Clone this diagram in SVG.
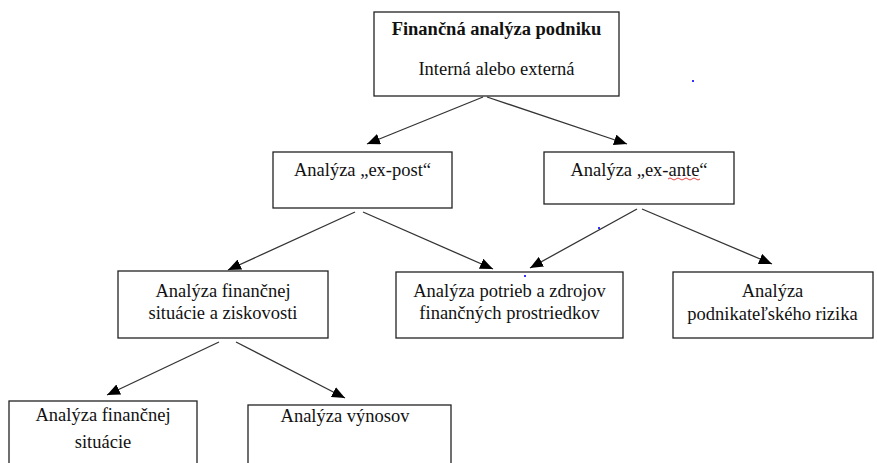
<svg xmlns="http://www.w3.org/2000/svg" width="877" height="463" viewBox="0 0 877 463">
<defs>
<marker id="ah" markerUnits="userSpaceOnUse" markerWidth="13" markerHeight="11" refX="13" refY="5.5" orient="auto">
<path d="M0,0 L13,5.5 L0,11 z" fill="#000"/>
</marker>
<style>
.box{fill:#fff;stroke:#222;stroke-width:1.3}
.t{font-family:'Liberation Serif','DejaVu Serif','Times New Roman',serif;font-size:18.5px;fill:#111;text-anchor:middle}
.b{font-weight:bold}
.c{stroke:#333;stroke-width:1.3;fill:none;marker-end:url(#ah)}
</style>
</defs>
<rect width="877" height="463" fill="#fff"/>
<g id="connectors">
<line class="c" x1="483" y1="97" x2="367" y2="144"/>
<line class="c" x1="487" y1="97" x2="627" y2="144"/>
<line class="c" x1="355" y1="212" x2="228" y2="270"/>
<line class="c" x1="363" y1="212" x2="493" y2="269"/>
<line class="c" x1="637" y1="209" x2="530" y2="268"/>
<line class="c" x1="642" y1="209" x2="772" y2="264"/>
<line class="c" x1="219" y1="342" x2="107" y2="395"/>
<line class="c" x1="236" y1="342" x2="345" y2="398"/>
</g>
<g id="root">
<rect class="box" x="374" y="12" width="245" height="84"/>
<text class="t b" x="496.5" y="35" font-family="Liberation Serif, serif">Finančná analýza podniku</text>
<text class="t" x="496.5" y="75" font-family="Liberation Serif, serif">Interná alebo externá</text>
</g>
<g id="expost">
<rect class="box" x="273" y="152" width="179" height="56"/>
<text class="t" x="362.5" y="176">Analýza „ex-post“</text>
</g>
<g id="exante">
<rect class="box" x="544" y="152" width="190" height="52"/>
<text class="t" x="639" y="176">Analýza „ex-ante“</text>
<path d="M668,179 q2,-2 4,0 t4,0 t4,0 t4,0 t4,0 t4,0 t4,0 t4,0" stroke="#e53030" stroke-width="0.9" fill="none"/>
</g>
<g id="finsit">
<rect class="box" x="118" y="271" width="210" height="67"/>
<text class="t" x="223" y="297">Analýza finančnej</text>
<text class="t" x="223" y="319">situácie a ziskovosti</text>
</g>
<g id="potrieb">
<rect class="box" x="396" y="272" width="227" height="66"/>
<text class="t" x="509.5" y="297">Analýza potrieb a zdrojov</text>
<text class="t" x="509.5" y="319">finančných prostriedkov</text>
</g>
<g id="riziko">
<rect class="box" x="673" y="272" width="200" height="66"/>
<text class="t" x="772.5" y="297">Analýza</text>
<text class="t" x="772.5" y="320">podnikateľského rizika</text>
</g>
<g id="finsit2">
<rect class="box" x="9" y="401" width="188" height="70"/>
<text class="t" x="103" y="421">Analýza finančnej</text>
<text class="t" x="103" y="448">situácie</text>
</g>
<g id="vynosov">
<rect class="box" x="248" y="405" width="203" height="66"/>
<text class="t" x="345" y="422">Analýza výnosov</text>
</g>
<g id="marks" fill="#3333ff">
<rect x="692" y="80" width="2" height="2"/>
<rect x="598" y="227" width="2" height="2"/>
<rect x="524" y="275" width="2" height="2"/>
</g>
</svg>
